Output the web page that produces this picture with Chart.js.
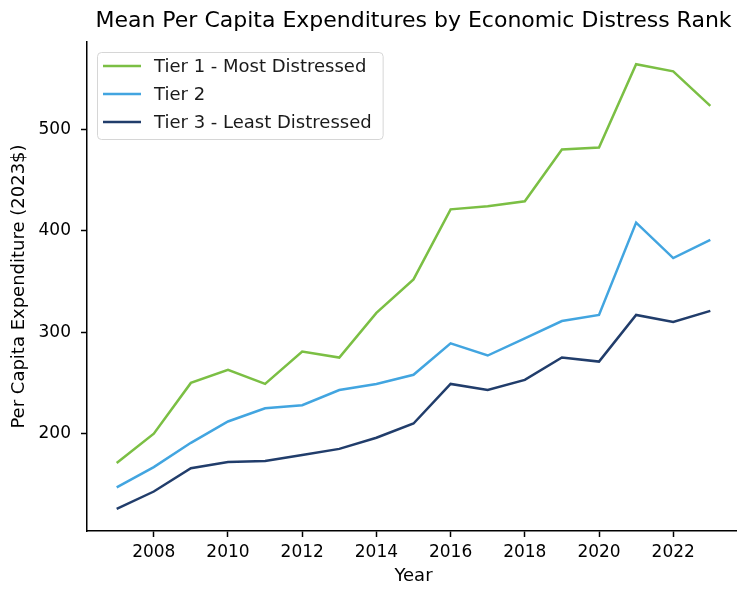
<!DOCTYPE html>
<html>
<head>
<meta charset="utf-8">
<title>Mean Per Capita Expenditures by Economic Distress Rank</title>
<script src="https://cdn.jsdelivr.net/npm/chart.js@4.4.1/dist/chart.umd.min.js"></script>
<style>
  html, body { margin: 0; padding: 0; background: #fff; overflow: hidden; }
  #wrap { width: 737px; height: 589px; overflow: hidden; position: relative; }
  #c { position: absolute; left: 0; top: 0; }
</style>
</head>
<body>
<div id="wrap"><canvas id="c" width="760" height="589"></canvas></div>
<script>
// Mean per capita expenditure (2023 dollars) by distress tier
const years = [2007, 2008, 2009, 2010, 2011, 2012, 2013, 2014, 2015, 2016, 2017, 2018, 2019, 2020, 2021, 2022, 2023];
const tier1 = [171, 200, 250, 263, 249, 281, 275, 319, 352, 421, 424, 429, 480, 482, 564, 557, 523];
const tier2 = [147, 167, 191, 212, 225, 228, 243, 249, 258, 289, 277, 294, 311, 317, 408, 373, 391];
const tier3 = [126, 143, 166, 172, 173, 179, 185, 196, 210, 249, 243, 253, 275, 271, 317, 310, 321];
const seriesLabels = ['Tier 1 - Most Distressed', 'Tier 2', 'Tier 3 - Least Distressed'];
const seriesColors = ['#7bbf44', '#42a5e0', '#213d6b'];
const xTickValues = [2008, 2010, 2012, 2014, 2016, 2018, 2020, 2022];
const yTickValues = [200, 300, 400, 500];

const FONT = '"DejaVu Sans", Verdana, sans-serif';

// axis limits padded by 5% of the data span on each side
function padded(lo, hi) {
  const m = (hi - lo) * 0.05;
  return [lo - m, hi + m];
}
const [xMin, xMax] = padded(Math.min(...years), Math.max(...years));
const allValues = tier1.concat(tier2, tier3);
const [yMin, yMax] = padded(Math.min(...allValues), Math.max(...allValues));

const seriesValues = [tier1, tier2, tier3];
const datasets = seriesValues.map((vals, i) => ({
  label: seriesLabels[i],
  data: years.map((yr, j) => ({ x: yr, y: vals[j] })),
  borderColor: seriesColors[i],
  backgroundColor: seriesColors[i],
  borderWidth: 2.5,
  pointRadius: 0,
  tension: 0,
  fill: false
}));

// framed legend in the upper-left corner of the plot area
const boxLegend = {
  id: 'boxLegend',
  afterDatasetsDraw(chart) {
    const ctx = chart.ctx;
    const area = chart.chartArea;
    const items = chart.data.datasets;
    ctx.save();
    ctx.font = '18px ' + FONT;
    const left = Math.round(area.left + 10);
    const top = Math.round(area.top + 10);
    const textOffset = 57;
    const maxW = Math.max(...items.map(d => ctx.measureText(d.label).width));
    const w = textOffset + maxW + 11;
    const h = 87;
    ctx.beginPath();
    ctx.roundRect(left + 0.5, top + 0.5, w, h, 4);
    ctx.fillStyle = 'rgba(255,255,255,0.8)';
    ctx.fill();
    ctx.strokeStyle = '#d6d6d6';
    ctx.lineWidth = 1;
    ctx.stroke();
    items.forEach((d, i) => {
      const y = top + 14 + i * 28;
      ctx.beginPath();
      ctx.moveTo(left + 6, y);
      ctx.lineTo(left + 44, y);
      ctx.strokeStyle = d.borderColor;
      ctx.lineWidth = d.borderWidth;
      ctx.stroke();
      ctx.fillStyle = '#1a1a1a';
      ctx.textBaseline = 'middle';
      ctx.textAlign = 'left';
      ctx.fillText(d.label, left + textOffset, y + 1);
    });
    ctx.restore();
  }
};

const axisCommon = {
  grid: { display: true, drawOnChartArea: false, drawTicks: true, tickLength: 6, tickColor: '#000', tickWidth: 1.5 },
  border: { display: true, color: '#000', width: 1.5 }
};

new Chart(document.getElementById('c'), {
  type: 'line',
  data: { datasets },
  plugins: [boxLegend],
  options: {
    responsive: false,
    devicePixelRatio: 1,
    animation: false,
    layout: { padding: { left: 0, right: 20, top: 0, bottom: 0 } },
    plugins: {
      legend: { display: false },
      tooltip: { enabled: false },
      title: {
        display: true,
        fullSize: false,
        text: 'Mean Per Capita Expenditures by Economic Distress Rank',
        color: '#000',
        font: { family: FONT, size: 22, weight: 'normal', lineHeight: 1.2 },
        padding: { top: 8, bottom: 7.6 }
      }
    },
    scales: {
      x: {
        type: 'linear',
        min: xMin,
        max: xMax,
        ...axisCommon,
        afterBuildTicks: s => { s.ticks = xTickValues.map(v => ({ value: v })); },
        afterFit: s => { s.height = 58; },
        ticks: {
          color: '#000',
          font: { family: FONT, size: 17 },
          padding: 5,
          maxRotation: 0,
          autoSkip: false,
          callback: v => String(v)
        },
        title: {
          display: true,
          text: 'Year',
          color: '#000',
          font: { family: FONT, size: 18 },
          padding: { top: 0, bottom: 2 }
        }
      },
      y: {
        type: 'linear',
        min: yMin,
        max: yMax,
        ...axisCommon,
        afterBuildTicks: s => { s.ticks = yTickValues.map(v => ({ value: v })); },
        afterFit: s => { s.width = 87; },
        ticks: {
          color: '#000',
          font: { family: FONT, size: 17 },
          padding: 10,
          autoSkip: false,
          callback: v => String(v)
        },
        title: {
          display: true,
          text: 'Per Capita Expenditure (2023$)',
          color: '#000',
          font: { family: FONT, size: 18 },
          padding: { top: 9, bottom: 0 }
        }
      }
    }
  }
});
</script>
</body>
</html>
